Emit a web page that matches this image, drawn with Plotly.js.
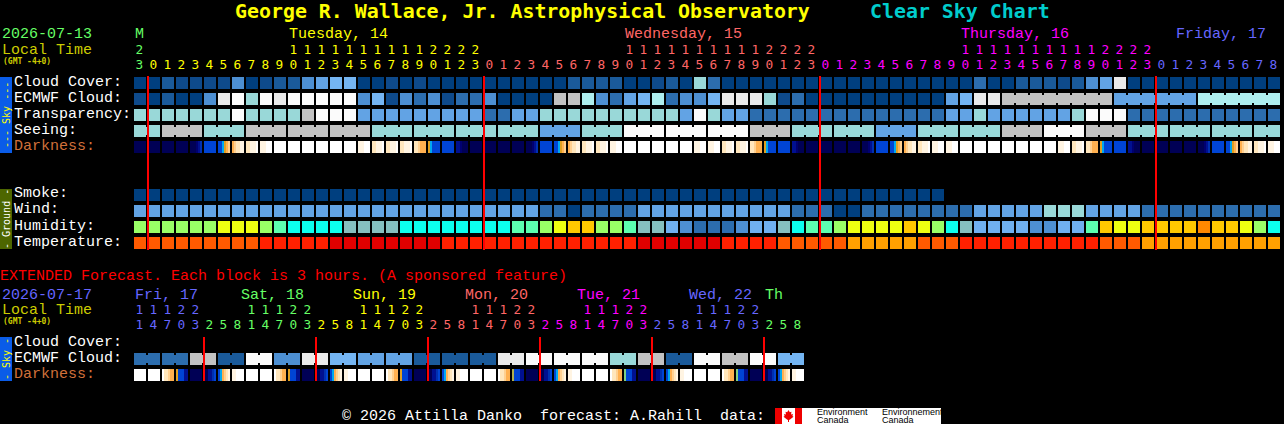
<!DOCTYPE html>
<html><head><meta charset="utf-8">
<script src="https://cdn.plot.ly/plotly-3.0.1.min.js"></script>
<style>html,body{margin:0;padding:0;background:#000}#c{width:1284px;height:424px}</style>
</head><body><div id="c"></div>
<script>
// ---------- values ----------
const cloudLevels=['#003F7F','#0E4A8B','#1A5A9A','#2C6DAE','#4D8FD2','#62A3E4','#74B5F3','#99D8D8','#AEEEEE','#C2C2C2','#EAEAEA','#FBFBFB'];
const cloudCover=[0,0,2,1,1,1,1,4,0,1,2,2,4,5,6,6,0,0,1,0,1,0,0,0,0,0,0,0,0,0,0,2,2,2,2,0,0,1,2,0,7,3,0,0,0,0,0,0,0,0,0,0,0,0,0,0,0,0,0,0,3,0,0,2,2,2,1,2,4,5,10,0,0,0,0,0,0,0,0,0,0,0];
const ecmwfCloud=[1,0,2,0,0,4,10,11,7,11,10,11,11,11,11,11,4,6,1,4,3,4,1,3,3,4,0,0,0,0,9,9,8,4,3,5,6,8,3,4,4,6,10,10,10,7,1,3,0,0,0,0,0,0,0,0,0,0,5,6,10,10,9,9,9,9,9,9,9,9,5,5,5,5,5,5,8,8,8,8,8,8];
const ecmwfJoined=[[62,69],[70,75],[76,81]];
const transparency=[7,7,7,7,7,7,7,11,7,7,7,7,9,11,11,11,5,5,5,5,5,5,5,5,5,3,3,5,5,7,7,7,7,7,7,7,7,7,7,5,11,7,5,5,3,3,3,3,3,3,3,3,3,3,3,3,3,3,5,5,7,5,5,5,5,5,5,7,11,11,11,3,3,3,3,3,3,3,3,3,3,3];
const seeingGroups=[[2,7],[3,9],[3,7],[3,9],[3,9],[3,9],[3,7],[3,7],[3,7],[3,7],[3,5],[3,7],[3,11],[3,11],[3,11],[3,9],[3,7],[3,7],[3,5],[3,7],[3,7],[3,9],[3,11],[3,9],[3,7],[3,7],[3,7],[2,7]];
const smoke=Array.of(0,0,0,0,0,0,0,0,0,0,0,0,0,0,0,0,0,0,0,0,0,0,0,0,0,0,0,0,0,0,0,0,0,0,0,0,0,0,0,0,0,0,0,0,0,0,0,0,0,0,0,0,0,0,0,0,0,0);
const wind=[5,5,5,5,5,5,5,5,5,5,5,5,5,5,5,5,5,5,5,5,5,5,5,5,5,5,5,5,5,3,3,0,3,3,3,3,5,5,5,5,5,5,5,5,5,5,5,3,3,3,0,0,3,3,3,3,3,3,3,3,5,5,5,5,5,7,7,7,5,5,5,5,3,3,3,3,3,3,3,3,3,3];
const humidityColors={g:'#99FF66',y:'#EEFF11',m:'#5CFFB0',c:'#0CFFEE',t:'#85BFBF',o:'#FFC800',r:'#FF8800',l:'#70B0F0',b:'#4D8FD2',d:'#2C6DAE'};
const humidity=['g','g','g','g','g','g','y','y','y','g','m','c','c','c','c','t','t','t','t','c','c','c','c','c','c','c','c','m','m','g','y','o','o','g','g','m','t','t','l','b','d','d','d','b','l','l','t','c','m','m','g','y','y','y','y','o','y','g','c','t','l','l','l','l','b','b','l','l','m','o','y','y','o','o','o','o','r','o','o','y','g','c'];
const temperatureColors={a:'#FFA000',o:'#FF5A00',r:'#FF2000',d:'#E00000'};
const temperature=['o','o','o','o','o','o','o','o','o','r','r','r','r','r','d','d','d','d','d','d','d','d','r','r','r','r','r','r','r','r','r','r','r','r','r','r','d','d','d','d','d','d','r','r','r','r','o','o','o','o','o','a','a','a','a','a','o','o','o','r','r','r','r','r','r','r','r','r','r','o','o','o','a','a','a','a','a','a','a','a','a','a'];
const darkColors={a:'#000055',b:'#000070',c:'#001090',d:'#0030B0',e:'#0044D4',f:'#00A8F0',g:'#E0A020',h:'#FFB050',i:'#FFD090',j:'#FFE6BC',k:'#FFF4E2',l:'#FFFFFF',o:'#B0B050',m:'#80D080'};
const darkNight='aaaaaa',darkPre='aaabcd',darkBlue='eeeeee',darkDawn='eefghi',darkPeach='hijjkk',darkCream='jjkkkl',darkPale='kkklll',darkWhite='llllll',darkDusk1='jjihhh',darkDusk2='gfeeee',darkAfter='ccbaaa';
const darknessMain=[darkNight,darkNight,darkNight,darkNight,darkPre,darkBlue,darkDawn,darkPeach,darkCream,darkPale,darkWhite,darkWhite,darkWhite,darkWhite,darkWhite,darkWhite,darkPale,darkCream,darkCream,darkCream,darkDusk1,darkDusk2,darkBlue,darkAfter,darkNight,darkNight,darkNight,darkNight,darkPre,darkBlue,darkDawn,darkPeach,darkCream,darkCream,darkPale,darkWhite,darkWhite,darkWhite,darkWhite,darkWhite,darkPale,darkPale,darkCream,darkCream,darkDusk1,darkDusk2,darkBlue,darkAfter,darkNight,darkNight,darkNight,darkNight,darkPre,darkBlue,darkDawn,darkPeach,darkCream,darkPale,darkPale,darkWhite,darkWhite,darkWhite,darkWhite,darkWhite,darkWhite,darkWhite,darkPale,darkCream,darkDusk1,darkDusk2,darkBlue,darkAfter,darkNight,darkNight,darkNight,darkNight,darkPre,darkBlue,darkDawn,darkPeach,darkCream,darkPale];
const extPale='kkllll',extDusk1='ljjihh',extDuskA='geeecc',extDuskB='oeeecc',extDuskC='meeecc',extPre='aaccde',extDawn='efhijk';
const darknessExt=[darkWhite,darkWhite,extDusk1,extDuskA,darkNight,extPre,extDawn,extPale,darkWhite,darkWhite,extDusk1,extDuskA,darkNight,extPre,extDawn,extPale,darkWhite,darkWhite,extDusk1,extDuskA,darkNight,extPre,extDawn,extPale,darkWhite,darkWhite,extDusk1,extDuskB,darkNight,extPre,extDawn,extPale,darkWhite,darkWhite,extDusk1,extDuskC,darkNight,extPre,extDawn,extPale,darkWhite,darkWhite,extDusk1,extDuskC,darkNight,extPre,extDawn,extPale];
const ecmwfExtPairs=[3,3,9,2,11,4,10,6,5,5,2,2,2,10,11,11,11,7,9,2,11,9,11,6];
const dayColors={mon:'#66FF66',tue:'#FFFF00',wed:'#FF6666',thu:'#FF00FF',fri:'#6666FF'};
const hoursOnes=[3,0,1,2,3,4,5,6,7,8,9,0,1,2,3,4,5,6,7,8,9,0,1,2,3,0,1,2,3,4,5,6,7,8,9,0,1,2,3,4,5,6,7,8,9,0,1,2,3,0,1,2,3,4,5,6,7,8,9,0,1,2,3,4,5,6,7,8,9,0,1,2,3,0,1,2,3,4,5,6,7,8];
const hoursTens=[2,'','','','','','','','','','',1,1,1,1,1,1,1,1,1,1,2,2,2,2,'','','','','','','','','','',1,1,1,1,1,1,1,1,1,1,2,2,2,2,'','','','','','','','','','',1,1,1,1,1,1,1,1,1,1,2,2,2,2,'','','','','','','','',''];
const hourDayIdx=[['mon',1],['tue',24],['wed',24],['thu',24],['fri',9]];
const extOnes=[1,4,7,0,3,2,5,8,1,4,7,0,3,2,5,8,1,4,7,0,3,2,5,8,1,4,7,0,3,2,5,8,1,4,7,0,3,2,5,8,1,4,7,0,3,2,5,8];
const extTens=[1,1,1,2,2,'','','',1,1,1,2,2,'','','',1,1,1,2,2,'','','',1,1,1,2,2,'','','',1,1,1,2,2,'','','',1,1,1,2,2,'','',''];
const extDayIdx=[['fri',5],['mon',8],['tue',8],['wed',8],['thu',8],['fri',8],['mon',3]];
const midnights=[1,25,49,73];
const extMidnights=[5,13,21,29,37,45];
const mainDays=[['Tuesday, 14',289,'tue'],['Wednesday, 15',625,'wed'],['Thursday, 16',961,'thu'],['Friday, 17',1176,'fri']];
const extDays=[['Fri, 17',135,'fri'],['Sat, 18',241,'mon'],['Sun, 19',353,'tue'],['Mon, 20',465,'wed'],['Tue, 21',577,'thu'],['Wed, 22',689,'fri'],['Th',765,'mon']];
const rowLabels=[['Cloud Cover:',82],['ECMWF Cloud:',98],['Transparency:',114],['Seeing:',130],['Smoke:',194],['Wind:',210],['Humidity:',226],['Temperature:',242]];
const extLabels=[['Cloud Cover:',342],['ECMWF Cloud:',358]];

// ---------- geometry helpers ----------
const W=1284,H=424,PITCH=14,RH=16;
const yOf=p=>(p-83)/RH;
const mono='"Liberation Mono", monospace';
const dejavu='"DejaVu Sans Mono", monospace';
const traces=[];
function blocks(colors,xs,top,h,w,name){
  traces.push({type:'bar',name,x:xs,y:xs.map(()=>h/RH),base:xs.map(()=>yOf(top)),width:xs.map(()=>w/PITCH),
    marker:{color:colors,line:{width:0}},hoverinfo:'skip',showlegend:false});
}
function row(name,levels,palette,top){
  blocks(levels.map(v=>palette[v]),levels.map((_,i)=>i),top,12,12,name);
}
function notches(name,joins,palette,top){
  const xs=joins.map(j=>j[0]+0.5);
  blocks(joins.map(j=>palette[j[1]]),xs,top+2,8,2,name+' joins');
}
function strips(name,blocksIn,top){
  const xs=[],cs=[];
  blocksIn.forEach((s,i)=>{[...s].forEach((k,n)=>{xs.push(i+(n-2.5)*2/PITCH);cs.push(darkColors[k]);});});
  blocks(cs,xs,top,12,2,name);
}
function expandGroups(groups){
  const levels=[],joins=[];let i=0;
  groups.forEach(([len,lv])=>{for(let n=0;n<len;n++){levels.push(lv);if(n<len-1)joins.push([i,lv]);i++;}});
  return {levels,joins};
}
row('Cloud Cover',cloudCover,cloudLevels,77);
row('ECMWF Cloud',ecmwfCloud,cloudLevels,93);
const ecJoins=[];ecmwfJoined.forEach(([a,b])=>{for(let i=a;i<b;i++)ecJoins.push([i,ecmwfCloud[i]]);});
notches('ECMWF',ecJoins,cloudLevels,93);
row('Transparency',transparency,cloudLevels,109);
const see=expandGroups(seeingGroups);
row('Seeing',see.levels,cloudLevels,125);
notches('Seeing',see.joins,cloudLevels,125);
strips('Darkness',darknessMain,141);
row('Smoke',smoke,cloudLevels,189);
row('Wind',wind,cloudLevels,205);
row('Humidity',humidity,humidityColors,221);
row('Temperature',temperature,temperatureColors,237);
const ext=expandGroups(ecmwfExtPairs.map(v=>[2,v]));
row('Ext ECMWF',ext.levels,cloudLevels,353);
notches('Ext ECMWF',ext.joins,cloudLevels,353);
strips('Ext Darkness',darknessExt,369);

// red day lines
function redLines(list,y0,y1){
  const xs=[],ys=[];
  list.forEach(m=>{const x=m-6/PITCH;xs.push(x,x,null);ys.push(yOf(y0),yOf(y1),null);});
  traces.push({type:'scatter',mode:'lines',x:xs,y:ys,line:{color:'#FF0000',width:2},hoverinfo:'skip',showlegend:false});
}
redLines(midnights,76,250);
redLines(extMidnights,337,381);

// hour digits
function digits(vals,spec,py){
  const cols=[];spec.forEach(([d,n])=>{for(let k=0;k<n;k++)cols.push(dayColors[d]);});
  traces.push({type:'scatter',mode:'text',x:vals.map((_,i)=>i-0.04),y:vals.map(()=>yOf(py+0.8)),text:vals.map(String),
    textposition:'middle center',textfont:{family:dejavu,size:12.8,color:cols},hoverinfo:'skip',showlegend:false,cliponaxis:false});
}
digits(hoursTens,hourDayIdx,50);
digits(hoursOnes,hourDayIdx,65);
digits(extTens,extDayIdx,310);
digits(extOnes,extDayIdx,325);

// ---------- text ----------
const ann=[];
function T(text,x,y,color,size,family){
  ann.push({text,x:x/W,y:1-y/H,xref:'paper',yref:'paper',xanchor:'left',yanchor:'middle',showarrow:false,borderpad:0,borderwidth:0,
    font:{family:family||mono,size:size||15,color}});
}
T('<b>George R. Wallace, Jr. Astrophysical Observatory</b>',235,12,'#FFFF00',19.9,dejavu);
T('<b>Clear Sky Chart</b>',870,12,'#00CCCC',19.9,dejavu);
T('2026-07-13',2,35,dayColors.mon);
T('Local Time',2,50,'#CCCC00');
T('<b>(GMT -4+0)</b>',3,61,'#CCCC00',8,dejavu);
T('M',135,35,dayColors.mon);
mainDays.forEach(([t,x,d])=>T(t,x,35,dayColors[d]));
rowLabels.forEach(([t,y])=>T(t,14,y,'#FFFFFF'));
T('Darkness:',14,146,'#D0703A');
T('EXTENDED Forecast. Each block is 3 hours. (A sponsored feature)',0,276,'#FF0000');
T('2026-07-17',2,295,dayColors.fri);
T('Local Time',2,310,'#CCCC00');
T('<b>(GMT -4+0)</b>',3,321,'#CCCC00',8,dejavu);
extDays.forEach(([t,x,d])=>T(t,x,295,dayColors[d]));
extLabels.forEach(([t,y])=>T(t,14,y,'#FFFFFF'));
T('Darkness:',14,374,'#D0703A');
T('\u00A9 2026 Attilla Danko&nbsp;&nbsp;forecast: A.Rahill&nbsp;&nbsp;data:',342,416,'#FFFFFF');
function V(text,y,color,size){
  ann.push({text,x:6/W,y:1-y/H,xref:'paper',yref:'paper',xanchor:'center',yanchor:'middle',textangle:-90,showarrow:false,borderpad:0,
    font:{family:dejavu,size,color}});
}
V('--- Sky ---',115,'#FFFF00',10);
V('- Ground -',219,'#FFFFFF',10);
V('- Sky -',359,'#FFFF00',10);
const lf={family:'"Liberation Sans", sans-serif',size:9,color:'#000000'};
[['Environment',816,412],['Canada',816,420],['Environnement',881,412],['Canada',881,420]].forEach(([t,x,y])=>{
  ann.push({text:t,x:x/W,y:1-y/H,xref:'paper',yref:'paper',xanchor:'left',yanchor:'middle',showarrow:false,borderpad:0,font:lf});
});

// ---------- static furniture ----------
const px=(x,y)=>(x/W)+','+(1-y/H);
function rect(x0,y0,x1,y1,color){return {type:'rect',xref:'paper',yref:'paper',x0:x0/W,x1:x1/W,y0:1-y0/H,y1:1-y1/H,fillcolor:color,line:{width:0},layer:'below'};}
const leaf=[[788.5,410],[789.8,412.3],[791.5,411.8],[791,414.6],[793,414],[792.4,416],[793.5,416.7],[790,419.5],[789,420],[789,422],[788,422],[788,420],[787,419.5],[783.5,416.7],[784.6,416],[784,414],[786,414.6],[785.5,411.8],[787.2,412.3]];
const shapes=[
  rect(0,77,12,153,'#0A5CE8'),rect(0,189,12,249,'#4D6600'),rect(0,337,12,381,'#0A5CE8'),
  rect(775,408,941,424,'#FFFFFF'),rect(775,408,782,424,'#EE0000'),rect(795,408,802,424,'#EE0000'),
  {type:'path',xref:'paper',yref:'paper',path:'M'+leaf.map(p=>px(p[0],p[1])).join('L')+'Z',fillcolor:'#EE0000',line:{width:0},layer:'below'}
];

Plotly.newPlot('c',traces,{
  width:W,height:H,margin:{l:0,r:0,t:0,b:0,pad:0},paper_bgcolor:'#000',plot_bgcolor:'#000',showlegend:false,barmode:'overlay',
  xaxis:{range:[-140/PITCH,(W-140)/PITCH],visible:false,fixedrange:true},
  yaxis:{range:[yOf(H),yOf(0)],visible:false,fixedrange:true},
  annotations:ann,shapes
},{staticPlot:true,displayModeBar:false});
</script></body></html>
